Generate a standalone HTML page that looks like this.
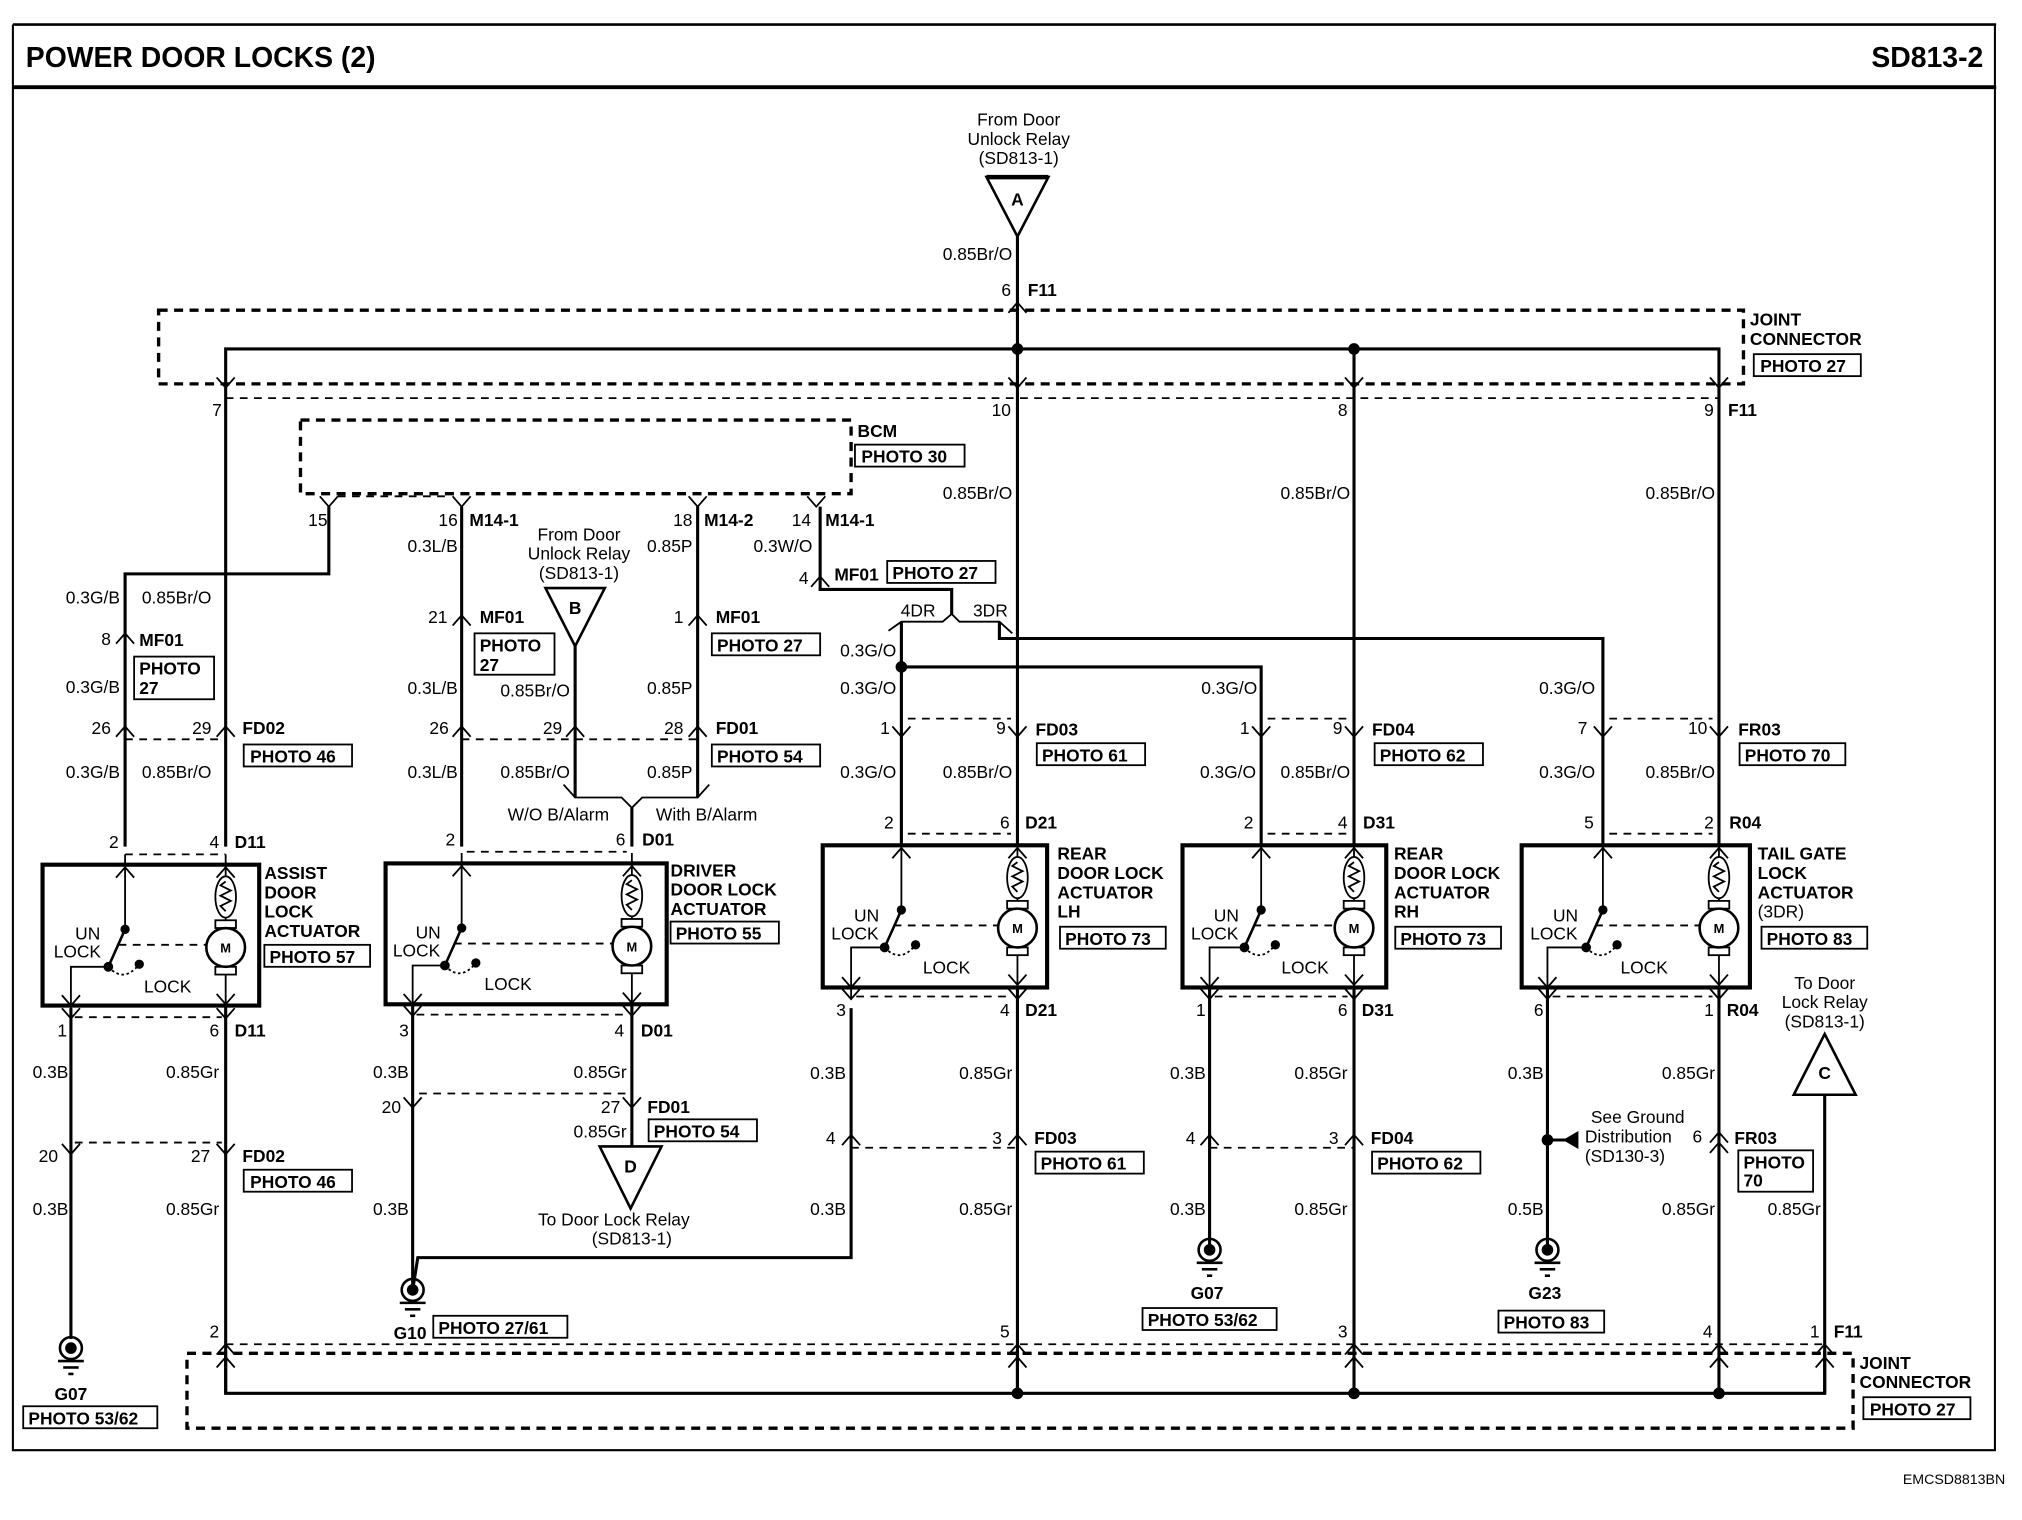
<!DOCTYPE html>
<html><head><meta charset="utf-8"><style>
html,body{margin:0;padding:0;background:#fff}
svg{display:block}
text{font-family:"Liberation Sans",Arial,sans-serif;font-size:13.5px;fill:#000}
.b{font-weight:bold}
.e{text-anchor:end}
.m{text-anchor:middle}
.w{stroke:#000;stroke-width:2.4;fill:none}
.t{stroke:#000;stroke-width:1.4;fill:none}
.d{stroke:#000;stroke-width:1.4;fill:none;stroke-dasharray:6 5}
.jd{stroke:#000;stroke-width:2.6;fill:none;stroke-dasharray:7 5}
.bx{stroke:#000;stroke-width:3.2;fill:none}
.pb{stroke:#000;stroke-width:1.4;fill:#fff}
</style></head><body>
<svg width="2022" height="1520" viewBox="0 0 1568 1176" preserveAspectRatio="none" xmlns="http://www.w3.org/2000/svg">
<defs>
<g id="sw">
 <line class="t" x1="0" y1="-8" x2="0" y2="50"/>
 <polyline class="t" points="-7,10 0,2 7,10"/>
 <circle cx="0" cy="50" r="3.6"/>
 <line class="t" x1="0" y1="50" x2="-13" y2="79" style="stroke-width:2"/>
 <circle cx="-13" cy="79" r="3.8"/>
 <circle cx="11" cy="77" r="3.6"/>
 <path d="M-13 79 Q -1 92 11 77" class="t" stroke-dasharray="2 2"/>
</g>
<g id="mot">
 <line class="t" x1="0" y1="-8" x2="0" y2="110"/>
 <polyline class="t" points="-7,10 0,2 7,10"/>
 <ellipse cx="0" cy="25" rx="8" ry="16" class="t" style="fill:#fff"/>
 <polyline class="t" points="0,13 -4,16 4,20 -4,24 4,28 -4,32 0,36"/>
 <rect x="-8" y="43" width="16" height="6" class="pb"/>
 <rect x="-8" y="79" width="16" height="6" class="pb"/>
 <circle cx="0" cy="64" r="15" class="pb" style="stroke-width:2"/>
 <text x="0" y="68" class="m b" style="font-size:10px">M</text>
 <polyline class="t" points="-7,100 0,108 7,100"/>
</g>
<g id="gnd">
 <circle cx="0" cy="0" r="8.5" class="t" style="stroke-width:2"/>
 <circle cx="0" cy="0" r="4.5"/>
 <line class="t" x1="-10" y1="10" x2="10" y2="10" style="stroke-width:2"/>
 <line class="t" x1="-6" y1="15" x2="6" y2="15" style="stroke-width:2"/>
 <line class="t" x1="-2" y1="20" x2="2" y2="20" style="stroke-width:2"/>
</g>
<path id="dn" class="t" d="M-7 -8 L0 0 L7 -8"/>
<path id="up" class="t" d="M-7 8 L0 0 L7 8"/>
</defs>

<!-- frame -->
<line x1="10" y1="19" x2="1548" y2="19" class="t" style="stroke-width:2"/>
<line x1="10" y1="67.5" x2="1548" y2="67.5" style="stroke:#000;stroke-width:3"/>
<polyline points="10,19 10,1122 1547,1122 1547,19" class="t" style="stroke-width:1.6"/>
<text x="20" y="52" class="b" style="font-size:22px">POWER DOOR LOCKS (2)</text>
<text x="1538" y="52" class="b e" style="font-size:22px">SD813-2</text>
<text x="1555" y="1148" class="e" style="font-size:11px">EMCSD8813BN</text>

<!-- Top A -->
<text x="790" y="97" class="m">From Door</text>
<text x="790" y="112" class="m">Unlock Relay</text>
<text x="790" y="127" class="m">(SD813-1)</text>
<polygon points="765,137 813,137 789,183" class="t" style="stroke-width:2"/>
<line x1="765" y1="137" x2="813" y2="137" style="stroke:#000;stroke-width:3.5"/>
<text x="789" y="159" class="m b">A</text>
<line x1="789" y1="183" x2="789" y2="655" class="w"/>
<text x="785" y="201" class="e">0.85Br/O</text>
<text x="784" y="229" class="e">6</text><text x="797" y="229" class="b">F11</text>
<use href="#up" x="789" y="234"/>

<!-- top joint connector -->
<rect x="123" y="240" width="1229" height="57" class="jd"/>
<polyline points="175,298 175,270 1333,270 1333,298" class="w"/>
<line x1="1050" y1="270" x2="1050" y2="298" class="w"/>
<circle cx="789" cy="270" r="4.5"/><circle cx="1050" cy="270" r="4.5"/>
<use href="#dn" x="175" y="300"/><use href="#dn" x="789" y="300"/><use href="#dn" x="1050" y="300"/><use href="#dn" x="1333" y="300"/>
<line x1="175" y1="308" x2="1333" y2="308" class="d"/>
<text x="1357" y="252" class="b">JOINT</text>
<text x="1357" y="267" class="b">CONNECTOR</text>
<rect x="1360" y="274" width="83" height="17" class="t"/><text x="1365" y="288" class="b">PHOTO 27</text>
<text x="172" y="322" class="e">7</text>
<text x="784" y="322" class="e">10</text>
<text x="1045" y="322" class="e">8</text>
<text x="1329" y="322" class="e">9</text><text x="1340" y="322" class="b">F11</text>
<text x="785" y="386" class="e">0.85Br/O</text>
<text x="1047" y="386" class="e">0.85Br/O</text>
<text x="1330" y="386" class="e">0.85Br/O</text>
<line x1="1050" y1="298" x2="1050" y2="655" class="w"/>
<line x1="1333" y1="298" x2="1333" y2="655" class="w"/>
<line x1="175" y1="298" x2="175" y2="655" class="w"/>

<!-- BCM -->
<rect x="233" y="325" width="427" height="57" class="jd"/>
<text x="665" y="338" class="b">BCM</text>
<rect x="663" y="344" width="85" height="17" class="t"/><text x="668" y="358" class="b">PHOTO 30</text>
<use href="#dn" x="255" y="392"/><use href="#dn" x="358" y="392"/><use href="#dn" x="541" y="392"/><use href="#dn" x="633" y="392"/>
<line x1="262" y1="384" x2="350" y2="384" class="d"/>
<text x="254" y="407" class="e">15</text>
<text x="355" y="407" class="e">16</text><text x="364" y="407" class="b">M14-1</text>
<text x="537" y="407" class="e">18</text><text x="546" y="407" class="b">M14-2</text>
<text x="629" y="407" class="e">14</text><text x="640" y="407" class="b">M14-1</text>

<!-- Assist column -->
<polyline points="255,392 255,444 97,444 97,655" class="w"/>
<text x="93" y="467" class="e">0.3G/B</text><text x="110" y="467">0.85Br/O</text>
<use href="#up" x="97" y="490"/>
<text x="86" y="499" class="e">8</text><text x="108" y="500" class="b">MF01</text>
<rect x="104" y="508" width="62" height="33" class="t"/><text x="108" y="522" class="b">PHOTO</text><text x="108" y="537" class="b">27</text>
<text x="93" y="536" class="e">0.3G/B</text>
<use href="#up" x="97" y="562"/><use href="#up" x="175" y="562"/>
<line x1="97" y1="572" x2="175" y2="572" class="d"/>
<text x="86" y="568" class="e">26</text><text x="164" y="568" class="e">29</text><text x="188" y="568" class="b">FD02</text>
<rect x="189" y="576" width="84" height="17" class="t"/><text x="194" y="590" class="b">PHOTO 46</text>
<text x="93" y="602" class="e">0.3G/B</text><text x="110" y="602">0.85Br/O</text>
<text x="92" y="656" class="e">2</text><text x="170" y="656" class="e">4</text><text x="182" y="656" class="b">D11</text>
<line x1="97" y1="661" x2="175" y2="661" class="d"/>
<rect x="33" y="669" width="168" height="109" class="bx"/>
<use href="#sw" x="97" y="669"/>
<use href="#mot" x="175" y="669"/>
<line x1="92" y1="731" x2="160" y2="731" class="d"/>
<polyline points="84,748 55,748 55,788" class="t"/>
<polyline points="48,770 55,778 62,770" class="t"/>
<text x="68" y="727" class="m">UN</text><text x="60" y="741" class="m">LOCK</text><text x="130" y="768" class="m">LOCK</text>
<text x="205" y="680" class="b">ASSIST</text><text x="205" y="695" class="b">DOOR</text><text x="205" y="710" class="b">LOCK</text><text x="205" y="725" class="b">ACTUATOR</text>
<rect x="205" y="731" width="82" height="17" class="t"/><text x="209" y="745" class="b">PHOTO 57</text>
<use href="#dn" x="55" y="788"/><use href="#dn" x="175" y="788"/>
<line x1="58" y1="787" x2="172" y2="787" class="d"/>
<text x="52" y="802" class="e">1</text><text x="170" y="802" class="e">6</text><text x="182" y="802" class="b">D11</text>
<line x1="55" y1="780" x2="55" y2="1036" class="w"/>
<line x1="175" y1="778" x2="175" y2="1078" class="w"/>
<text x="53" y="834" class="e">0.3B</text><text x="170" y="834" class="e">0.85Gr</text>
<line x1="58" y1="884" x2="172" y2="884" class="d"/>
<use href="#dn" x="55" y="893"/><use href="#dn" x="175" y="893"/>
<text x="45" y="899" class="e">20</text><text x="163" y="899" class="e">27</text><text x="188" y="899" class="b">FD02</text>
<rect x="189" y="905" width="84" height="17" class="t"/><text x="194" y="919" class="b">PHOTO 46</text>
<text x="53" y="940" class="e">0.3B</text><text x="170" y="940" class="e">0.85Gr</text>
<use href="#gnd" x="55" y="1043"/>
<text x="55" y="1083" class="m b">G07</text>
<rect x="18" y="1088" width="104" height="17" class="t"/><text x="22" y="1102" class="b">PHOTO 53/62</text>

<!-- Driver column -->
<line x1="358" y1="392" x2="358" y2="655" class="w"/>
<text x="355" y="427" class="e">0.3L/B</text>
<use href="#up" x="358" y="476"/>
<text x="347" y="482" class="e">21</text><text x="372" y="482" class="b">MF01</text>
<rect x="368" y="490" width="62" height="32" class="t"/><text x="372" y="504" class="b">PHOTO</text><text x="372" y="519" class="b">27</text>
<text x="355" y="537" class="e">0.3L/B</text>
<text x="449" y="418" class="m">From Door</text><text x="449" y="433" class="m">Unlock Relay</text><text x="449" y="448" class="m">(SD813-1)</text>
<polygon points="423,455 469,455 446,500" class="t" style="stroke-width:2"/>
<text x="446" y="475" class="m b">B</text>
<line x1="446" y1="500" x2="446" y2="617" class="w"/>
<text x="442" y="539" class="e">0.85Br/O</text>
<line x1="541" y1="392" x2="541" y2="617" class="w"/>
<text x="537" y="427" class="e">0.85P</text>
<use href="#up" x="541" y="476"/>
<text x="530" y="482" class="e">1</text><text x="555" y="482" class="b">MF01</text>
<rect x="552" y="490" width="84" height="17" class="t"/><text x="556" y="504" class="b">PHOTO 27</text>
<text x="537" y="537" class="e">0.85P</text>
<use href="#up" x="358" y="562"/><use href="#up" x="446" y="562"/><use href="#up" x="541" y="562"/>
<line x1="358" y1="572" x2="541" y2="572" class="d"/>
<text x="348" y="568" class="e">26</text><text x="436" y="568" class="e">29</text><text x="530" y="568" class="e">28</text><text x="555" y="568" class="b">FD01</text>
<rect x="552" y="576" width="84" height="17" class="t"/><text x="556" y="590" class="b">PHOTO 54</text>
<text x="355" y="602" class="e">0.3L/B</text><text x="442" y="602" class="e">0.85Br/O</text><text x="537" y="602" class="e">0.85P</text>
<polyline points="437,607 446,617 482,617 490,625 498,617 541,617 550,607" class="t"/>
<line x1="490" y1="625" x2="490" y2="655" class="w"/>
<text x="433" y="635" class="m">W/O B/Alarm</text><text x="548" y="635" class="m">With B/Alarm</text>
<text x="353" y="654" class="e">2</text><text x="485" y="654" class="e">6</text><text x="498" y="654" class="b">D01</text>
<line x1="362" y1="659" x2="486" y2="659" class="d"/>
<rect x="299" y="668" width="218" height="109" class="bx"/>
<use href="#sw" x="358" y="668"/>
<use href="#mot" x="490" y="668"/>
<line x1="352" y1="730" x2="475" y2="730" class="d"/>
<polyline points="345,747 320,747 320,785" class="t"/>
<polyline points="313,769 320,777 327,769" class="t"/>
<text x="332" y="726" class="m">UN</text><text x="323" y="740" class="m">LOCK</text><text x="394" y="766" class="m">LOCK</text>
<text x="520" y="678" class="b">DRIVER</text><text x="520" y="693" class="b">DOOR LOCK</text><text x="520" y="708" class="b">ACTUATOR</text>
<rect x="520" y="713" width="84" height="17" class="t"/><text x="524" y="727" class="b">PHOTO 55</text>
<use href="#dn" x="320" y="786"/><use href="#dn" x="490" y="786"/>
<line x1="323" y1="785" x2="487" y2="785" class="d"/>
<text x="317" y="802" class="e">3</text><text x="484" y="802" class="e">4</text><text x="497" y="802" class="b">D01</text>
<line x1="320" y1="777" x2="320" y2="998" class="w"/>
<line x1="490" y1="777" x2="490" y2="887" class="w"/>
<text x="317" y="834" class="e">0.3B</text><text x="486" y="834" class="e">0.85Gr</text>
<line x1="325" y1="846" x2="486" y2="846" class="d"/>
<use href="#dn" x="320" y="857"/><use href="#dn" x="490" y="857"/>
<text x="311" y="861" class="e">20</text><text x="481" y="861" class="e">27</text><text x="502" y="861" class="b">FD01</text>
<rect x="503" y="866" width="84" height="17" class="t"/><text x="507" y="880" class="b">PHOTO 54</text>
<text x="486" y="880" class="e">0.85Gr</text>
<polygon points="465,887 513,887 489,935" class="t" style="stroke-width:2"/>
<text x="489" y="907" class="m b">D</text>
<text x="476" y="948" class="m">To Door Lock Relay</text><text x="490" y="963" class="m">(SD813-1)</text>
<text x="317" y="940" class="e">0.3B</text>
<polyline points="320,998 324,973 660,973 660,780" class="w"/>
<use href="#gnd" x="320" y="998"/>
<text x="318" y="1036" class="m b">G10</text>
<rect x="336" y="1018" width="104" height="17" class="t"/><text x="340" y="1032" class="b">PHOTO 27/61</text>

<!-- 14 / MF01 / 4DR 3DR -->
<polyline points="636,392 636,456 738,456 738,475" class="w"/>
<text x="630" y="427" class="e">0.3W/O</text>
<use href="#up" x="636" y="446"/>
<text x="627" y="452" class="e">4</text><text x="647" y="449" class="b">MF01</text>
<rect x="688" y="434" width="84" height="17" class="t"/><text x="692" y="448" class="b">PHOTO 27</text>
<polyline points="689,488 699,481 731,481 738,475 744,481 775,481 785,490" class="t"/>
<text x="712" y="477" class="m">4DR</text><text x="768" y="477" class="m">3DR</text>
<polyline points="775,481 775,494 1243,494 1243,655" class="w"/>
<line x1="699" y1="481" x2="699" y2="655" class="w"/>
<polyline points="699,516 978,516 978,655" class="w"/>
<circle cx="699" cy="516" r="4.5"/>
<text x="695" y="508" class="e">0.3G/O</text><text x="695" y="537" class="e">0.3G/O</text>
<text x="975" y="537" class="e">0.3G/O</text><text x="1237" y="537" class="e">0.3G/O</text>

<!-- LH -->
<use href="#dn" x="699" y="570"/><use href="#dn" x="789" y="570"/>
<line x1="704" y1="556" x2="784" y2="556" class="d"/>
<text x="690" y="568" class="e">1</text><text x="780" y="568" class="e">9</text><text x="803" y="569" class="b">FD03</text>
<rect x="804" y="575" width="84" height="17" class="t"/><text x="808" y="589" class="b">PHOTO 61</text>
<text x="695" y="602" class="e">0.3G/O</text><text x="785" y="602" class="e">0.85Br/O</text>
<text x="693" y="641" class="e">2</text><text x="783" y="641" class="e">6</text><text x="795" y="641" class="b">D21</text>
<line x1="704" y1="645" x2="784" y2="645" class="d"/>
<rect x="638" y="654" width="174" height="110" class="bx"/>
<use href="#sw" x="699" y="654"/>
<use href="#mot" x="789" y="654"/>
<line x1="693" y1="716" x2="774" y2="716" class="d"/>
<polyline points="686,733 660,733 660,772" class="t"/>
<polyline points="653,756 660,764 667,756" class="t"/>
<text x="672" y="713" class="m">UN</text><text x="663" y="727" class="m">LOCK</text><text x="734" y="753" class="m">LOCK</text>
<text x="820" y="665" class="b">REAR</text><text x="820" y="680" class="b">DOOR LOCK</text><text x="820" y="695" class="b">ACTUATOR</text><text x="820" y="710" class="b">LH</text>
<rect x="822" y="717" width="82" height="17" class="t"/><text x="826" y="731" class="b">PHOTO 73</text>
<use href="#dn" x="660" y="773"/><use href="#dn" x="789" y="773"/>
<line x1="664" y1="771" x2="784" y2="771" class="d"/>
<text x="656" y="786" class="e">3</text><text x="783" y="786" class="e">4</text><text x="795" y="786" class="b">D21</text>
<line x1="789" y1="764" x2="789" y2="1078" class="w"/>
<text x="656" y="835" class="e">0.3B</text><text x="785" y="835" class="e">0.85Gr</text>
<use href="#up" x="660" y="878"/><use href="#up" x="789" y="878"/>
<line x1="660" y1="888" x2="789" y2="888" class="d"/>
<text x="648" y="885" class="e">4</text><text x="777" y="885" class="e">3</text><text x="802" y="885" class="b">FD03</text>
<rect x="803" y="891" width="84" height="17" class="t"/><text x="807" y="905" class="b">PHOTO 61</text>
<text x="656" y="940" class="e">0.3B</text><text x="785" y="940" class="e">0.85Gr</text>

<!-- RH -->
<use href="#dn" x="978" y="570"/><use href="#dn" x="1050" y="570"/>
<line x1="983" y1="556" x2="1045" y2="556" class="d"/>
<text x="969" y="568" class="e">1</text><text x="1041" y="568" class="e">9</text><text x="1064" y="569" class="b">FD04</text>
<rect x="1066" y="575" width="84" height="17" class="t"/><text x="1070" y="589" class="b">PHOTO 62</text>
<text x="974" y="602" class="e">0.3G/O</text><text x="1047" y="602" class="e">0.85Br/O</text>
<text x="972" y="641" class="e">2</text><text x="1045" y="641" class="e">4</text><text x="1057" y="641" class="b">D31</text>
<line x1="983" y1="645" x2="1045" y2="645" class="d"/>
<rect x="917" y="654" width="158" height="110" class="bx"/>
<use href="#sw" x="978" y="654"/>
<use href="#mot" x="1050" y="654"/>
<line x1="972" y1="716" x2="1035" y2="716" class="d"/>
<polyline points="965,733 938,733 938,772" class="t"/>
<polyline points="931,756 938,764 945,756" class="t"/>
<text x="951" y="713" class="m">UN</text><text x="942" y="727" class="m">LOCK</text><text x="1012" y="753" class="m">LOCK</text>
<text x="1081" y="665" class="b">REAR</text><text x="1081" y="680" class="b">DOOR LOCK</text><text x="1081" y="695" class="b">ACTUATOR</text><text x="1081" y="710" class="b">RH</text>
<rect x="1082" y="717" width="82" height="17" class="t"/><text x="1086" y="731" class="b">PHOTO 73</text>
<use href="#dn" x="938" y="773"/><use href="#dn" x="1050" y="773"/>
<line x1="942" y1="771" x2="1045" y2="771" class="d"/>
<text x="935" y="786" class="e">1</text><text x="1045" y="786" class="e">6</text><text x="1056" y="786" class="b">D31</text>
<line x1="938" y1="764" x2="938" y2="968" class="w"/>
<line x1="1050" y1="764" x2="1050" y2="1078" class="w"/>
<text x="935" y="835" class="e">0.3B</text><text x="1045" y="835" class="e">0.85Gr</text>
<use href="#up" x="938" y="878"/><use href="#up" x="1050" y="878"/>
<line x1="938" y1="888" x2="1050" y2="888" class="d"/>
<text x="927" y="885" class="e">4</text><text x="1038" y="885" class="e">3</text><text x="1063" y="885" class="b">FD04</text>
<rect x="1064" y="891" width="84" height="17" class="t"/><text x="1068" y="905" class="b">PHOTO 62</text>
<text x="935" y="940" class="e">0.3B</text><text x="1045" y="940" class="e">0.85Gr</text>
<use href="#gnd" x="938" y="967"/>
<text x="936" y="1005" class="m b">G07</text>
<rect x="886" y="1012" width="104" height="17" class="t"/><text x="890" y="1026" class="b">PHOTO 53/62</text>

<!-- Tail gate -->
<use href="#dn" x="1243" y="570"/><use href="#dn" x="1333" y="570"/>
<line x1="1248" y1="556" x2="1328" y2="556" class="d"/>
<text x="1231" y="568" class="e">7</text><text x="1324" y="568" class="e">10</text><text x="1348" y="569" class="b">FR03</text>
<rect x="1349" y="575" width="82" height="17" class="t"/><text x="1353" y="589" class="b">PHOTO 70</text>
<text x="1237" y="602" class="e">0.3G/O</text><text x="1330" y="602" class="e">0.85Br/O</text>
<text x="1236" y="641" class="e">5</text><text x="1329" y="641" class="e">2</text><text x="1341" y="641" class="b">R04</text>
<line x1="1248" y1="645" x2="1328" y2="645" class="d"/>
<rect x="1180" y="654" width="177" height="110" class="bx"/>
<use href="#sw" x="1243" y="654"/>
<use href="#mot" x="1333" y="654"/>
<line x1="1237" y1="716" x2="1318" y2="716" class="d"/>
<polyline points="1230,733 1200,733 1200,772" class="t"/>
<polyline points="1193,756 1200,764 1207,756" class="t"/>
<text x="1214" y="713" class="m">UN</text><text x="1205" y="727" class="m">LOCK</text><text x="1275" y="753" class="m">LOCK</text>
<text x="1363" y="665" class="b">TAIL GATE</text><text x="1363" y="680" class="b">LOCK</text><text x="1363" y="695" class="b">ACTUATOR</text><text x="1363" y="710">(3DR)</text>
<rect x="1366" y="717" width="82" height="17" class="t"/><text x="1370" y="731" class="b">PHOTO 83</text>
<use href="#dn" x="1200" y="773"/><use href="#dn" x="1333" y="773"/>
<line x1="1204" y1="771" x2="1328" y2="771" class="d"/>
<text x="1197" y="786" class="e">6</text><text x="1329" y="786" class="e">1</text><text x="1339" y="786" class="b">R04</text>
<line x1="1200" y1="764" x2="1200" y2="968" class="w"/>
<line x1="1333" y1="764" x2="1333" y2="1078" class="w"/>
<text x="1197" y="835" class="e">0.3B</text><text x="1330" y="835" class="e">0.85Gr</text>
<circle cx="1200" cy="882" r="4.5"/>
<line x1="1200" y1="882" x2="1214" y2="882" class="w"/>
<polygon points="1212,882 1224,875 1224,889"/>
<text x="1270" y="869" class="m">See Ground</text><text x="1229" y="884">Distribution</text><text x="1229" y="899">(SD130-3)</text>
<text x="1320" y="884" class="e">6</text>
<use href="#up" x="1333" y="876"/><use href="#up" x="1333" y="884"/>
<text x="1345" y="885" class="b">FR03</text>
<rect x="1348" y="890" width="58" height="32" class="t"/><text x="1352" y="904" class="b">PHOTO</text><text x="1352" y="918" class="b">70</text>
<text x="1197" y="940" class="e">0.5B</text><text x="1330" y="940" class="e">0.85Gr</text>
<use href="#gnd" x="1200" y="967"/>
<text x="1198" y="1005" class="m b">G23</text>
<rect x="1162" y="1014" width="82" height="17" class="t"/><text x="1166" y="1028" class="b">PHOTO 83</text>

<!-- C -->
<text x="1415" y="765" class="m">To Door</text><text x="1415" y="780" class="m">Lock Relay</text><text x="1415" y="795" class="m">(SD813-1)</text>
<polygon points="1415,800 1391,847 1439,847" class="t" style="stroke-width:2"/>
<text x="1415" y="835" class="m b">C</text>
<line x1="1415" y1="847" x2="1415" y2="1078" class="w"/>
<text x="1412" y="940" class="e">0.85Gr</text>

<!-- bottom joint connector -->
<line x1="175" y1="1040" x2="1415" y2="1040" class="d"/>
<rect x="145" y="1047" width="1292" height="58" class="jd"/>
<polyline points="175,1045 175,1078 1415,1078 1415,1045" class="w"/>
<line x1="789" y1="1045" x2="789" y2="1078" class="w"/>
<circle cx="789" cy="1078" r="4.5"/><circle cx="1050" cy="1078" r="4.5"/><circle cx="1333" cy="1078" r="4.5"/>
<use href="#up" x="175" y="1040"/><use href="#up" x="175" y="1050"/>
<use href="#up" x="789" y="1040"/><use href="#up" x="789" y="1050"/>
<use href="#up" x="1050" y="1040"/><use href="#up" x="1050" y="1050"/>
<use href="#up" x="1333" y="1040"/><use href="#up" x="1333" y="1050"/>
<use href="#up" x="1415" y="1040"/><use href="#up" x="1415" y="1050"/>
<text x="170" y="1035" class="e">2</text><text x="783" y="1035" class="e">5</text><text x="1045" y="1035" class="e">3</text><text x="1328" y="1035" class="e">4</text><text x="1411" y="1035" class="e">1</text><text x="1422" y="1035" class="b">F11</text>
<text x="1442" y="1059" class="b">JOINT</text><text x="1442" y="1074" class="b">CONNECTOR</text>
<rect x="1445" y="1081" width="83" height="17" class="t"/><text x="1450" y="1095" class="b">PHOTO 27</text>
</svg>
</body></html>
